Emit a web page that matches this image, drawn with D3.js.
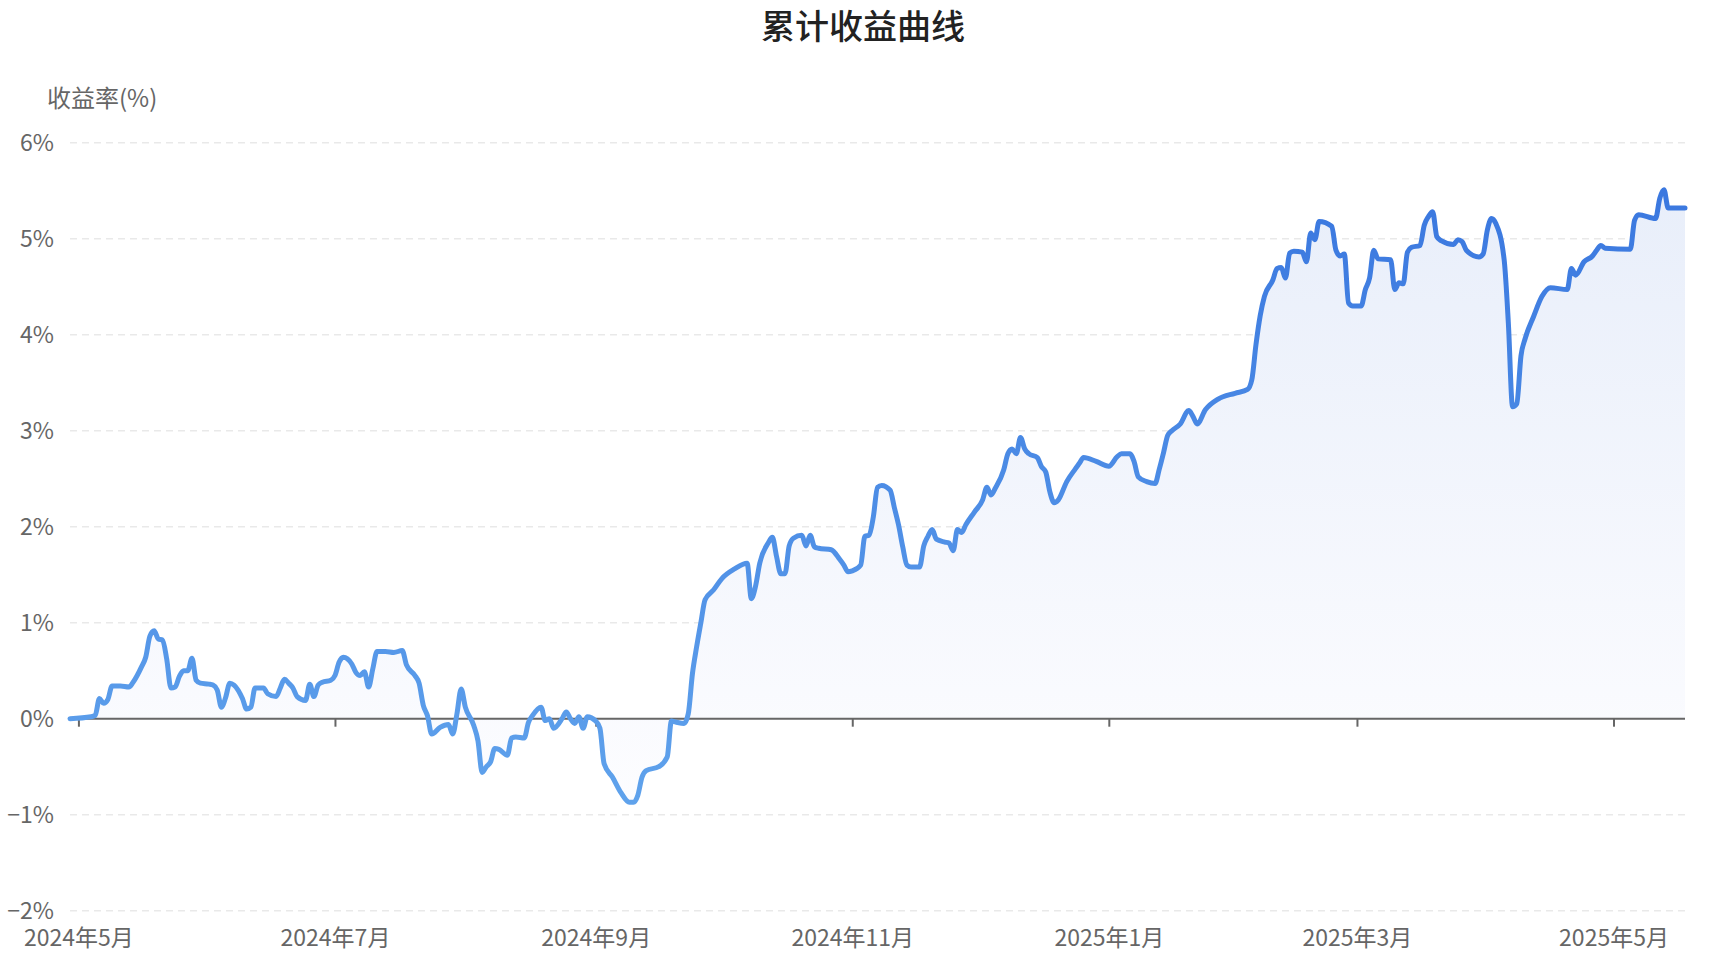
<!DOCTYPE html>
<html>
<head>
<meta charset="utf-8">
<script src="https://cdn.jsdelivr.net/npm/d3@7/dist/d3.min.js"></script>
<style>
  html, body { margin: 0; padding: 0; background: #fff; }
  svg { display: block; font-family: "Noto Sans CJK SC", "Noto Sans", sans-serif; }
</style>
</head>
<body>
<svg id="chart" width="1716" height="954"></svg>
<script>
// ---- data ----
const titleText = "累计收益曲线";
const yAxisName = "收益率(%)";
const yTicks = [-2, -1, 0, 1, 2, 3, 4, 5, 6];

const dates = [
  "2024-04-29","2024-05-04","2024-05-05","2024-05-06","2024-05-07","2024-05-08","2024-05-09","2024-05-11","2024-05-13","2024-05-14",
  "2024-05-16","2024-05-17","2024-05-18","2024-05-19","2024-05-20","2024-05-21","2024-05-22","2024-05-23","2024-05-24","2024-05-25",
  "2024-05-26","2024-05-27","2024-05-28","2024-05-29","2024-05-30","2024-06-01","2024-06-02","2024-06-03","2024-06-04","2024-06-05",
  "2024-06-06","2024-06-07","2024-06-09","2024-06-10","2024-06-11","2024-06-12","2024-06-14","2024-06-15","2024-06-17","2024-06-18",
  "2024-06-19","2024-06-20","2024-06-21","2024-06-22","2024-06-24","2024-06-25","2024-06-26","2024-06-27","2024-06-28","2024-06-30",
  "2024-07-01","2024-07-02","2024-07-03","2024-07-05","2024-07-06","2024-07-07","2024-07-08","2024-07-09","2024-07-10","2024-07-11",
  "2024-07-13","2024-07-15","2024-07-17","2024-07-18","2024-07-20","2024-07-21","2024-07-22","2024-07-23","2024-07-24","2024-07-26",
  "2024-07-28","2024-07-29","2024-07-30","2024-07-31","2024-08-01","2024-08-03","2024-08-04","2024-08-05","2024-08-06","2024-08-07",
  "2024-08-08","2024-08-09","2024-08-11","2024-08-12","2024-08-13","2024-08-15","2024-08-16","2024-08-17","2024-08-19","2024-08-20",
  "2024-08-21","2024-08-22","2024-08-24","2024-08-25","2024-08-26","2024-08-27","2024-08-28","2024-08-29","2024-08-30","2024-09-01",
  "2024-09-02","2024-09-03","2024-09-05","2024-09-07","2024-09-09","2024-09-10","2024-09-11","2024-09-12","2024-09-13","2024-09-16",
  "2024-09-18","2024-09-19","2024-09-20","2024-09-22","2024-09-23","2024-09-24","2024-09-25","2024-09-26","2024-09-27","2024-09-29",
  "2024-10-01","2024-10-04","2024-10-07","2024-10-08","2024-10-09","2024-10-10","2024-10-12","2024-10-13","2024-10-14","2024-10-15",
  "2024-10-16","2024-10-17","2024-10-18","2024-10-20","2024-10-21","2024-10-22","2024-10-23","2024-10-24","2024-10-27","2024-10-29",
  "2024-10-30","2024-10-31","2024-11-01","2024-11-03","2024-11-04","2024-11-05","2024-11-06","2024-11-07","2024-11-08","2024-11-10",
  "2024-11-11","2024-11-12","2024-11-13","2024-11-14","2024-11-15","2024-11-17","2024-11-18","2024-11-19","2024-11-20","2024-11-21",
  "2024-11-23","2024-11-24","2024-11-25","2024-11-26","2024-11-27","2024-11-28","2024-11-30","2024-12-02","2024-12-03","2024-12-04",
  "2024-12-05","2024-12-07","2024-12-08","2024-12-09","2024-12-10","2024-12-11","2024-12-12","2024-12-13","2024-12-15","2024-12-16",
  "2024-12-17","2024-12-18","2024-12-19","2024-12-20","2024-12-22","2024-12-24","2024-12-25","2024-12-26","2024-12-29","2025-01-01",
  "2025-01-03","2025-01-04","2025-01-06","2025-01-07","2025-01-08","2025-01-10","2025-01-12","2025-01-13","2025-01-14","2025-01-15",
  "2025-01-16","2025-01-18","2025-01-20","2025-01-21","2025-01-22","2025-01-24","2025-01-27","2025-01-31","2025-02-03","2025-02-04",
  "2025-02-05","2025-02-06","2025-02-07","2025-02-09","2025-02-10","2025-02-11","2025-02-12","2025-02-13","2025-02-14","2025-02-16",
  "2025-02-17","2025-02-18","2025-02-19","2025-02-20","2025-02-23","2025-02-24","2025-02-25","2025-02-26","2025-02-27","2025-02-28",
  "2025-03-02","2025-03-03","2025-03-04","2025-03-05","2025-03-06","2025-03-09","2025-03-10","2025-03-11","2025-03-12","2025-03-13",
  "2025-03-14","2025-03-16","2025-03-17","2025-03-18","2025-03-19","2025-03-20","2025-03-21","2025-03-24","2025-03-25","2025-03-26",
  "2025-03-27","2025-03-30","2025-03-31","2025-04-01","2025-04-02","2025-04-03","2025-04-05","2025-04-06","2025-04-07","2025-04-08",
  "2025-04-09","2025-04-10","2025-04-12","2025-04-14","2025-04-16","2025-04-20","2025-04-21","2025-04-22","2025-04-24","2025-04-26",
  "2025-04-27","2025-04-28","2025-04-29","2025-05-05","2025-05-06","2025-05-07","2025-05-11","2025-05-12","2025-05-13","2025-05-14",
  "2025-05-18"
];

const returns = [
  0.00, 0.02, 0.035, 0.21, 0.16, 0.20, 0.34, 0.34, 0.33, 0.38,
  0.54, 0.64, 0.86, 0.915, 0.83, 0.82, 0.62, 0.32, 0.33, 0.44,
  0.50, 0.50, 0.63, 0.40, 0.37, 0.36, 0.35, 0.30, 0.12, 0.22,
  0.37, 0.35, 0.21, 0.10, 0.12, 0.32, 0.32, 0.26, 0.23, 0.32,
  0.41, 0.37, 0.32, 0.23, 0.19, 0.36, 0.23, 0.35, 0.38, 0.40,
  0.45, 0.59, 0.64, 0.57, 0.48, 0.45, 0.49, 0.33, 0.52, 0.70,
  0.70, 0.69, 0.71, 0.56, 0.45, 0.37, 0.14, 0.03, -0.16, -0.09,
  -0.06, -0.16, 0.05, 0.31, 0.12, -0.07, -0.23, -0.56, -0.50, -0.45,
  -0.31, -0.32, -0.38, -0.20, -0.19, -0.20, -0.04, 0.035, 0.12, -0.02,
  0.00, -0.10, 0.00, 0.07, 0.00, -0.05, 0.02, -0.10, 0.02, -0.025,
  -0.10, -0.47, -0.61, -0.77, -0.87, -0.87, -0.80, -0.61, -0.54, -0.50,
  -0.40, -0.025, -0.035, -0.05, 0.05, 0.47, 0.75, 1.00, 1.24, 1.34,
  1.46, 1.56, 1.62, 1.25, 1.38, 1.62, 1.83, 1.89, 1.69, 1.51,
  1.51, 1.80, 1.88, 1.91, 1.80, 1.91, 1.79, 1.775, 1.76, 1.66,
  1.60, 1.53, 1.54, 1.60, 1.90, 1.91, 2.10, 2.41, 2.43, 2.38,
  2.20, 2.02, 1.79, 1.60, 1.58, 1.58, 1.80, 1.90, 1.97, 1.87,
  1.84, 1.83, 1.75, 1.97, 1.94, 2.02, 2.15, 2.28, 2.41, 2.33,
  2.40, 2.59, 2.76, 2.81, 2.76, 2.93, 2.81, 2.76, 2.72, 2.625,
  2.57, 2.36, 2.25, 2.28, 2.47, 2.60, 2.66, 2.72, 2.68, 2.63,
  2.73, 2.76, 2.76, 2.68, 2.52, 2.47, 2.45, 2.60, 2.77, 2.95,
  3.00, 3.07, 3.21, 3.15, 3.07, 3.22, 3.33, 3.39, 3.43, 3.53,
  3.90, 4.20, 4.40, 4.57, 4.69, 4.70, 4.59, 4.85, 4.87, 4.86,
  4.76, 5.06, 4.99, 5.18, 5.13, 4.88, 4.82, 4.84, 4.33, 4.30,
  4.30, 4.47, 4.59, 4.88, 4.79, 4.78, 4.47, 4.54, 4.53, 4.86,
  4.91, 4.93, 5.14, 5.23, 5.28, 5.02, 4.98, 4.94, 4.99, 4.97,
  4.88, 4.81, 4.84, 5.09, 5.21, 5.16, 4.78, 4.12, 3.25, 3.28,
  3.78, 3.96, 4.19, 4.40, 4.49, 4.47, 4.69, 4.62, 4.76, 4.82,
  4.88, 4.93, 4.90, 4.89, 5.19, 5.25, 5.21, 5.42, 5.51, 5.32,
  5.32
];

// ---- layout ----
const W = 1716, H = 954;
const plot = { left: 70, right: 1685, top: 142.7, bottom: 910.7 };

const parse = d3.timeParse("%Y-%m-%d");
const data = dates.map((d, i) => ({ date: parse(d), value: returns[i] }));

const svg = d3.select("#chart");

const x = d3.scaleTime()
  .domain(d3.extent(data, d => d.date))
  .range([plot.left, plot.right]);

const y = d3.scaleLinear()
  .domain([-2, 6])
  .range([plot.bottom, plot.top]);

// gradients
const defs = svg.append("defs");
const areaGrad = defs.append("linearGradient")
  .attr("id", "areaGrad").attr("gradientUnits", "userSpaceOnUse")
  .attr("x1", 0).attr("x2", 0).attr("y1", y(5.6)).attr("y2", y(-1));
areaGrad.append("stop").attr("offset", "0%").attr("stop-color", "#e8eefa");
areaGrad.append("stop").attr("offset", "100%").attr("stop-color", "#fdfdff");

const lineGrad = defs.append("linearGradient")
  .attr("id", "lineGrad").attr("gradientUnits", "userSpaceOnUse")
  .attr("x1", 0).attr("x2", 0).attr("y1", y(5.6)).attr("y2", y(-1));
lineGrad.append("stop").attr("offset", "0%").attr("stop-color", "#3a77df");
lineGrad.append("stop").attr("offset", "100%").attr("stop-color", "#60a3ec");

// gridlines
svg.append("g")
  .selectAll("line")
  .data(yTicks.filter(t => t !== 0))
  .join("line")
  .attr("x1", plot.left).attr("x2", plot.right)
  .attr("y1", d => y(d)).attr("y2", d => y(d))
  .attr("stroke", "#e9e9e9")
  .attr("stroke-width", 1.5)
  .attr("stroke-dasharray", "7,5");

// area
const area = d3.area()
  .x(d => x(d.date))
  .y0(y(0))
  .y1(d => y(d.value))
  .curve(d3.curveMonotoneX);

svg.append("path")
  .datum(data)
  .attr("d", area)
  .attr("fill", "url(#areaGrad)");

// x axis (at 0%)
const xAxis = d3.axisBottom(x)
  .ticks(d3.timeMonth.every(2))
  .tickSize(8)
  .tickFormat(d => `${d.getFullYear()}年${d.getMonth() + 1}月`);

const gx = svg.append("g")
  .attr("transform", `translate(0,${y(0)})`)
  .call(xAxis);
gx.select(".domain").remove();
gx.append("line")
  .attr("x1", plot.left).attr("x2", plot.right)
  .attr("y1", 0).attr("y2", 0)
  .attr("stroke", "#666").attr("stroke-width", 2);
gx.selectAll(".tick line").attr("stroke", "#666").attr("stroke-width", 2);
gx.selectAll(".tick text")
  .attr("y", plot.bottom - y(0) + 27)
  .attr("dy", "0.35em")
  .attr("fill", "#666")
  .style("font-size", "23px")
  .style("font-family", "\"Noto Sans CJK SC\", sans-serif");

// y axis labels
const yAxis = d3.axisLeft(y)
  .tickValues(yTicks)
  .tickSize(0)
  .tickPadding(0)
  .tickFormat(d => d3.format("d")(d) + "%");

const gy = svg.append("g")
  .attr("transform", `translate(54,0)`)
  .call(yAxis);
gy.select(".domain").remove();
gy.selectAll(".tick text")
  .attr("fill", "#666")
  .style("font-size", "23px")
  .style("font-family", "\"Noto Sans CJK SC\", sans-serif");

// line
const line = d3.line()
  .x(d => x(d.date))
  .y(d => y(d.value))
  .curve(d3.curveMonotoneX);

svg.append("path")
  .datum(data)
  .attr("d", line)
  .attr("fill", "none")
  .attr("stroke", "url(#lineGrad)")
  .attr("stroke-width", 5)
  .attr("stroke-linejoin", "round")
  .attr("stroke-linecap", "round");

// y axis name
svg.append("text")
  .attr("x", 47).attr("y", 99)
  .attr("dy", "0.35em")
  .attr("fill", "#666")
  .style("font-size", "24px")
  .text(yAxisName);

// title
svg.append("text")
  .attr("x", 863).attr("y", 27)
  .attr("dy", "0.35em")
  .attr("text-anchor", "middle")
  .attr("fill", "#222")
  .style("font-size", "34px")
  .style("font-weight", "500")
  .text(titleText);
</script>
</body>
</html>
